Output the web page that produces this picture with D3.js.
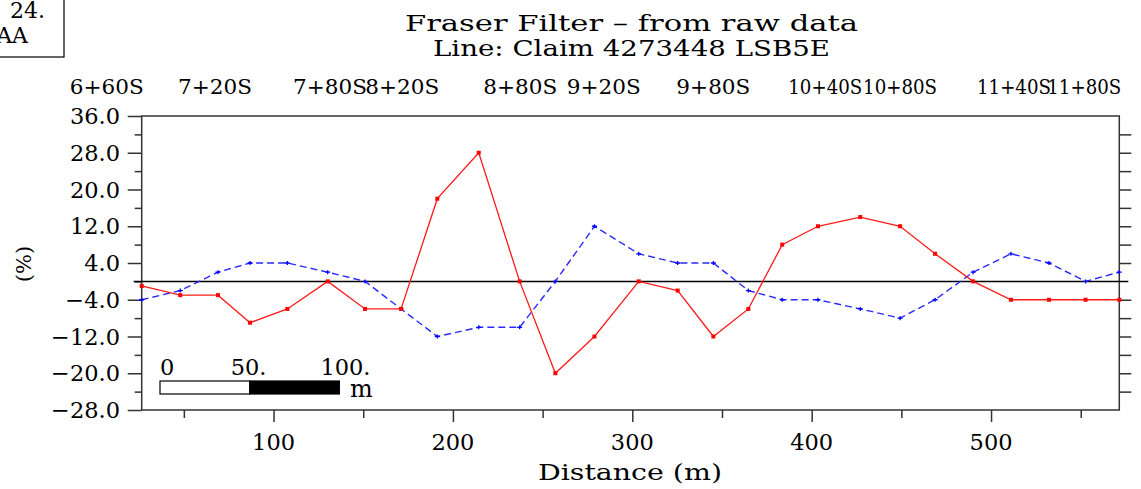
<!DOCTYPE html>
<html>
<head>
<meta charset="utf-8">
<script src="https://cdn.jsdelivr.net/npm/d3@7"></script>
<style>
  html, body { margin: 0; padding: 0; background: #fff; }
  svg { display: block; }
  text { font-family: "DejaVu Serif", "Liberation Serif", serif; fill: #000; }
</style>
</head>
<body>
<svg id="chart" width="1141" height="489"></svg>
<script>
// ---- data ----
const distance = [26.5, 48.0, 69.0, 86.9, 107.7, 130.2, 151.0, 171.1, 191.3, 214.4, 237.2,
                  257.1, 278.9, 303.6, 325.3, 345.2, 364.7, 383.6, 403.5, 427.1, 449.3,
                  468.8, 490.0, 511.1, 532.3, 552.7, 571.5];
const rawData = [-1, -3, -3, -9, -6, 0, -6, -6, 18, 28, 0, -20, -12, 0, -2, -12, -6, 8, 12, 14, 12,
                 6, 0, -4, -4, -4, -4];
const fraserFilter = [-4, -2, 2, 4, 4, 2, 0, -6, -12, -10, -10, 0, 12, 6, 4, 4, -2, -4, -4, -6, -8,
                      -4, 2, 6, 4, 0, 2];
const stationIndex = [0, 3, 6, 8, 11, 13, 16, 19, 21, 24, 26];
const stationLabels = ["6+60S", "7+20S", "7+80S", "8+20S", "8+80S", "9+20S", "9+80S",
                       "10+40S", "10+80S", "11+40S", "11+80S"];
const yTickValues = [36, 28, 20, 12, 4, -4, -12, -20, -28];
const yTickLabels = ["36.0", "28.0", "20.0", "12.0", "4.0", "\u22124.0", "\u221212.0", "\u221220.0", "\u221228.0"];
const xTickValues = [100, 200, 300, 400, 500];
const xTickLabels = ["100", "200", "300", "400", "500"];
const scaleBarLabels = ["0", "50.", "100."];
const scaleBarValues = [0, 50, 100];
const titleLines = ["Fraser Filter \u2013 from raw data", "Line: Claim 4273448 LSB5E"];
const boxLines = ["24.", "AA"];

// ---- layout ----
const svg = d3.select("#chart");
const L = 141.7, R = 1119.3, T = 116, B = 410;
const x = d3.scaleLinear().domain(d3.extent(distance)).range([L, R]);
const y = d3.scaleLinear().domain([-28, 36]).range([B, T]);
const axisColor = "#333";

// top-left box
svg.append("rect").attr("x", -10).attr("y", -10).attr("width", 74).attr("height", 67)
  .attr("fill", "none").attr("stroke", "#000").attr("stroke-width", 1.2);
svg.append("text").attr("x", 45).attr("y", 18).attr("text-anchor", "end")
  .attr("font-size", 22).text(boxLines[0]);
svg.append("text").attr("x", 28).attr("y", 43).attr("text-anchor", "end")
  .attr("font-size", 22).text(boxLines[1]);

// titles
svg.append("text").attr("x", 631.5).attr("y", 31).attr("text-anchor", "middle")
  .attr("font-size", 22).attr("textLength", 453).attr("lengthAdjust", "spacingAndGlyphs")
  .text(titleLines[0]);
svg.append("text").attr("x", 631.5).attr("y", 56).attr("text-anchor", "middle")
  .attr("font-size", 22).attr("textLength", 397).attr("lengthAdjust", "spacingAndGlyphs")
  .text(titleLines[1]);

// station labels (right-aligned at station position)
svg.append("g").selectAll("text").data(stationIndex).join("text")
  .attr("x", d => x(distance[d]) + 2)
  .attr("y", 94)
  .attr("text-anchor", "end")
  .attr("font-size", 21)
  .attr("textLength", 74).attr("lengthAdjust", "spacingAndGlyphs")
  .text((d, i) => stationLabels[i]);

// left axis
const yAll = d3.range(-28, 37, 4);
const leftAxis = d3.axisLeft(y).tickValues(yAll)
  .tickSize(0).tickFormat("");
const gl = svg.append("g").attr("transform", `translate(${L},0)`).call(leftAxis);
gl.select(".domain").remove();
gl.selectAll(".tick line").remove();
gl.selectAll(".tick").append("line")
  .attr("x1", d => yTickValues.includes(d) ? -14 : -7).attr("x2", 0)
  .attr("stroke", axisColor).attr("stroke-width", 1.5);
svg.append("g").selectAll("text").data(yTickValues).join("text")
  .attr("x", 120).attr("y", d => y(d) + 8)
  .attr("text-anchor", "end").attr("font-size", 22.5)
  .text((d, i) => yTickLabels[i]);

// right axis
const gr = svg.append("g").attr("transform", `translate(${R},0)`)
  .call(d3.axisRight(y).tickValues(yAll.filter(v => v !== 0 && v !== 36 && v !== -28)).tickSize(12).tickFormat(""));
gr.select(".domain").remove();
gr.selectAll(".tick line").attr("stroke", axisColor).attr("stroke-width", 1.5);

// bottom axis
const gb = svg.append("g").attr("transform", `translate(0,${B})`)
  .call(d3.axisBottom(x).tickValues(d3.range(50, 551, 50)).tickSize(0).tickFormat(""));
gb.select(".domain").remove();
gb.selectAll(".tick").append("line")
  .attr("y1", 0).attr("y2", d => d % 100 === 0 ? 12 : 8)
  .attr("stroke", axisColor).attr("stroke-width", 1.5);
svg.append("g").selectAll("text").data(xTickValues).join("text")
  .attr("x", d => x(d)).attr("y", 450)
  .attr("text-anchor", "middle").attr("font-size", 22.5)
  .text((d, i) => xTickLabels[i]);

// frame
svg.append("rect").attr("x", L).attr("y", T).attr("width", R - L).attr("height", B - T)
  .attr("fill", "none").attr("stroke", axisColor).attr("stroke-width", 1.5);

// zero reference line
svg.append("line").attr("x1", L - 8).attr("x2", R + 9)
  .attr("y1", y(0)).attr("y2", y(0))
  .attr("stroke", "#000").attr("stroke-width", 1.5);

// axis titles
svg.append("text").attr("x", 630).attr("y", 480).attr("text-anchor", "middle")
  .attr("font-size", 22.5).attr("textLength", 184).attr("lengthAdjust", "spacingAndGlyphs")
  .text("Distance (m)");
svg.append("text").attr("transform", "translate(31,264) rotate(-90)")
  .attr("text-anchor", "middle").attr("font-size", 21).text("(%)");

// lines
const lineGen = vals => d3.line().x((d, i) => x(distance[i])).y(d => y(d))(vals);
svg.append("path").attr("d", lineGen(fraserFilter))
  .attr("fill", "none").attr("stroke", "#2a2aff").attr("stroke-width", 1.4)
  .attr("stroke-dasharray", "7,4");
svg.append("g").selectAll("path").data(fraserFilter).join("path")
  .attr("d", (d, i) => {
    const cx = x(distance[i]), cy = y(d);
    return `M${cx - 2.5},${cy}H${cx + 2.5}M${cx},${cy - 2}V${cy + 2}`;
  })
  .attr("stroke", "#0000ff").attr("stroke-width", 1.3);

svg.append("path").attr("d", lineGen(rawData))
  .attr("fill", "none").attr("stroke", "#ff1a1a").attr("stroke-width", 1.3);
svg.append("g").selectAll("rect").data(rawData).join("rect")
  .attr("x", (d, i) => x(distance[i]) - 2).attr("y", d => y(d) - 2)
  .attr("width", 4).attr("height", 4).attr("fill", "#ff0000");

// scale bar
const sb0 = 160, sbY = 381, sbH = 13;
const sbW = v => x(distance[0] + v) - x(distance[0]);
svg.append("rect").attr("x", sb0).attr("y", sbY).attr("width", sbW(50)).attr("height", sbH)
  .attr("fill", "#fff").attr("stroke", "#000").attr("stroke-width", 1.2);
svg.append("rect").attr("x", sb0 + sbW(50)).attr("y", sbY).attr("width", sbW(50)).attr("height", sbH)
  .attr("fill", "#000").attr("stroke", "#000").attr("stroke-width", 1.2);
svg.append("g").selectAll("text").data(scaleBarValues).join("text")
  .attr("x", d => sb0 + sbW(d) - (d === 0 ? 0 : 19)).attr("y", 375)
  .attr("font-size", 22.5).text((d, i) => scaleBarLabels[i]);
svg.append("text").attr("x", 350).attr("y", 397).attr("font-size", 24).text("m");
</script>
</body>
</html>
